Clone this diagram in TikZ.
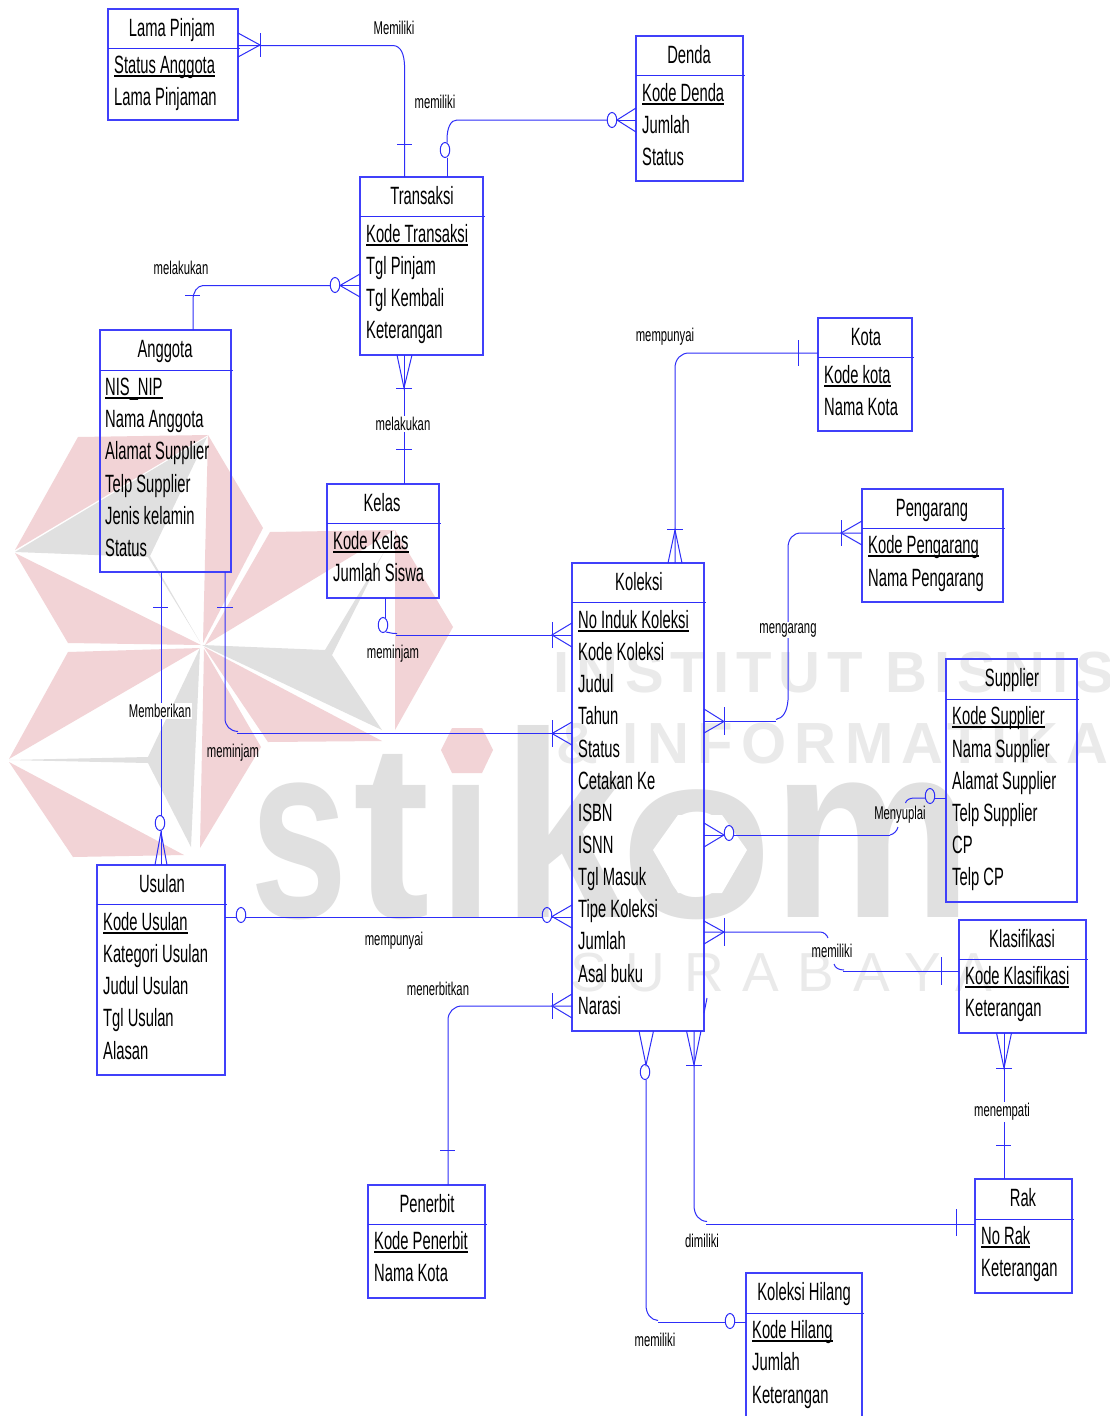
\documentclass[tikz,border=0pt]{standalone}
\usepackage{fontspec}
\usetikzlibrary{shapes.geometric}
\setmainfont{Liberation Sans}
\newfontfamily\attrf[FakeStretch=0.59]{Liberation Sans}
\newfontfamily\labf[FakeStretch=0.61]{Liberation Sans}
\newfontfamily\wmf{Liberation Sans Bold}
\newfontfamily\wmbig[LetterSpace=12]{Liberation Sans Bold}
\newfontfamily\wmbigb[LetterSpace=14.5]{Liberation Sans Bold}
\newfontfamily\wmthin[LetterSpace=34]{Liberation Sans}
\definecolor{wmpink}{HTML}{F2D3D6}
\definecolor{wmgray}{HTML}{E0E0E0}
\definecolor{wmtext}{HTML}{EAEAEA}
\definecolor{er}{HTML}{2E2EF8}
\definecolor{erbox}{HTML}{4040FA}
\newcommand\ukey[1]{\setbox0\hbox{#1}\rlap{\rule[-3.5pt]{\wd0}{1.8pt}}\box0}
\tikzset{
  entbox/.style={draw=erbox,line width=1.1pt,rectangle,inner sep=0pt,outer sep=0pt},
  attr/.style={anchor=base west,inner sep=0pt,font=\attrf\fontsize{25}{25}\selectfont},
  ttl/.style={anchor=base,inner sep=0pt,font=\attrf\fontsize{25}{25}\selectfont},
  rel/.style={inner sep=1pt,font=\labf\fontsize{18.5}{18.5}\selectfont},
  relw/.style={rel,fill=white},
  conn/.style={draw=er,line width=1pt},
  zero/.style={draw=er,line width=1pt,ellipse,minimum width=9.5pt,minimum height=15pt,inner sep=0pt,outer sep=0pt},
  pk/.style={fill=wmpink,draw=none},
  gr/.style={fill=wmgray,draw=none},
  wmletter/.style={anchor=base west,inner sep=0pt,text=wmgray,font=\wmf\fontsize{250}{250}\selectfont,transform shape}
}
% name x1 y1 x2 y2 ydiv title titlex
\newcommand\ent[8]{%
  \node[entbox,minimum width={(#4-#2)*1pt},minimum height={(#5-#3)*1pt}] (#1) at ({(#2+#4)/2},{(#3+#5)/2}) {};
  \draw[conn] (#1.west |- 0,#6) -- ([xshift=1.5pt]#1.east |- 0,#6);
  \node[ttl] (#1t) at (#8,{#3+27.5}) {#7};
}
\begin{document}
\begin{tikzpicture}[x=1pt,y=-1pt]
\useasboundingbox (0,0) rectangle (1110,1416);
\fill[white] (0,0) rectangle (1110,1416);
% ---- watermark
\fill[pk] (78,437) -- (208,435) -- (15,550) -- cycle;
\fill[gr] (15,552) -- (207,437) -- (150,556) -- (200,642) -- (148,557) -- cycle;
\fill[pk] (208,435) -- (263,528) -- (203,643) -- cycle;
\fill[pk] (15,553) -- (201,645) -- (68,643) -- cycle;
\fill[pk] (270,532) -- (395,530) -- (205,645) -- cycle;
\fill[pk] (395,530) -- (453,627) -- (395,730) -- cycle;
\fill[gr] (202,645) -- (325,650) -- (384,552) -- (332,655) -- (382,730) -- cycle;
\fill[pk] (204,647) -- (382,741) -- (268,742) -- cycle;
\fill[pk] (204,649) -- (261,747) -- (200,848) -- cycle;
\fill[gr] (200,648) -- (191,847) -- (148,763) -- (9,760) -- (148,757) -- cycle;
\fill[pk] (9,762) -- (184,855) -- (73,857) -- cycle;
\fill[pk] (200,648) -- (9,759) -- (68,652) -- cycle;
\node[wmletter,xscale=.70] (wms) at (250,917) {s};
\node[wmletter,xscale=.92] (wmt) at (353,917) {t};
\node[wmletter,xscale=.77] (wmi) at (439,917) {i};
\node[wmletter,xscale=.90,yscale=1.06] (wmk) at (502,917) {k};
\node[wmletter,xscale=1,yscale=.95] (wmo) at (620,917) {o};
\node[wmletter,xscale=.90] (wmm) at (772,917) {m};
\fill[white] (653,850) -- (678,815) -- (722,815) -- (747,850) -- (722,893) -- (678,893) -- cycle;
\fill[pk] (441,750) -- (452,728) -- (482,728) -- (493,750) -- (482,773) -- (452,773) -- cycle;
\node[anchor=base west,inner sep=0pt,text=wmtext,font=\wmbig\fontsize{58}{58}\selectfont] (wm1) at (553,692) {INSTITUT BISNIS};
\node[anchor=base west,inner sep=0pt,text=wmtext,font=\wmbigb\fontsize{58}{58}\selectfont] (wm2) at (556,763) {\& INFORMATIKA};
\node[anchor=base west,inner sep=0pt,text=wmtext,font=\wmthin\fontsize{55}{55}\selectfont] (wm3) at (570,991) {SURABAYA};
% ---- entities
\ent{lama}{108}{9}{238}{120}{48}{Lama Pinjam}{172}
\node[attr] (lama1) at (114,73) {\ukey{Status Anggota}};
\node[attr] (lama2) at (114,105) {Lama Pinjaman};
\ent{denda}{636}{36}{743}{181}{75}{Denda}{689}
\node[attr] (denda1) at (642,101) {\ukey{Kode Denda}};
\node[attr] (denda2) at (642,133) {Jumlah};
\node[attr] (denda3) at (642,165) {Status};
\ent{trans}{360}{177}{483}{355}{216}{Transaksi}{422}
\node[attr] (trans1) at (366,242) {\ukey{Kode Transaksi}};
\node[attr] (trans2) at (366,274) {Tgl Pinjam};
\node[attr] (trans3) at (366,306) {Tgl Kembali};
\node[attr] (trans4) at (366,338) {Keterangan};
\ent{anggota}{100}{330}{231}{572}{370}{Anggota}{165}
\node[attr] (ang1) at (105,395) {\ukey{NIS\_NIP}};
\node[attr] (ang2) at (105,427) {Nama Anggota};
\node[attr] (ang3) at (105,459) {Alamat Supplier};
\node[attr] (ang4) at (105,492) {Telp Supplier};
\node[attr] (ang5) at (105,524) {Jenis kelamin};
\node[attr] (ang6) at (105,556) {Status};
\ent{kelas}{327}{484}{439}{598}{523}{Kelas}{382}
\node[attr] (kel1) at (333,549) {\ukey{Kode Kelas}};
\node[attr] (kel2) at (333,581) {Jumlah Siswa};
\ent{kota}{818}{318}{912}{431}{357}{Kota}{866}
\node[attr] (kota1) at (824,383) {\ukey{Kode kota}};
\node[attr] (kota2) at (824,415) {Nama Kota};
\ent{pengarang}{862}{489}{1003}{602}{528}{Pengarang}{932}
\node[attr] (peng1) at (868,553) {\ukey{Kode Pengarang}};
\node[attr] (peng2) at (868,586) {Nama Pengarang};
\ent{koleksi}{572}{563}{704}{1031}{602}{Koleksi}{639}
\node[attr] (kol1) at (578,628) {\ukey{No Induk Koleksi}};
\node[attr] (kol2) at (578,660) {Kode Koleksi};
\node[attr] (kol3) at (578,692) {Judul};
\node[attr] (kol4) at (578,724) {Tahun};
\node[attr] (kol5) at (578,757) {Status};
\node[attr] (kol6) at (578,789) {Cetakan Ke};
\node[attr] (kol7) at (578,821) {ISBN};
\node[attr] (kol8) at (578,853) {ISNN};
\node[attr] (kol9) at (578,885) {Tgl Masuk};
\node[attr] (kol10) at (578,917) {Tipe Koleksi};
\node[attr] (kol11) at (578,949) {Jumlah};
\node[attr] (kol12) at (578,982) {Asal buku};
\node[attr] (kol13) at (578,1014) {Narasi};
\ent{supplier}{946}{659}{1077}{902}{699}{Supplier}{1012}
\node[attr] (sup1) at (952,724) {\ukey{Kode Supplier}};
\node[attr] (sup2) at (952,757) {Nama Supplier};
\node[attr] (sup3) at (952,789) {Alamat Supplier};
\node[attr] (sup4) at (952,821) {Telp Supplier};
\node[attr] (sup5) at (952,853) {CP};
\node[attr] (sup6) at (952,885) {Telp CP};
\ent{klas}{959}{920}{1086}{1033}{959}{Klasifikasi}{1022}
\node[attr] (kla1) at (965,984) {\ukey{Kode Klasifikasi}};
\node[attr] (kla2) at (965,1016) {Keterangan};
\ent{usulan}{97}{865}{225}{1075}{904}{Usulan}{162}
\node[attr] (usu1) at (103,930) {\ukey{Kode Usulan}};
\node[attr] (usu2) at (103,962) {Kategori Usulan};
\node[attr] (usu3) at (103,994) {Judul Usulan};
\node[attr] (usu4) at (103,1026) {Tgl Usulan};
\node[attr] (usu5) at (103,1059) {Alasan};
\ent{penerbit}{368}{1185}{485}{1298}{1224}{Penerbit}{427}
\node[attr] (pen1) at (374,1249) {\ukey{Kode Penerbit}};
\node[attr] (pen2) at (374,1281) {Nama Kota};
\ent{rak}{975}{1179}{1072}{1293}{1219}{Rak}{1023}
\node[attr] (rak1) at (981,1244) {\ukey{No Rak}};
\node[attr] (rak2) at (981,1276) {Keterangan};
\ent{hilang}{746}{1273}{862}{1420}{1313}{Koleksi Hilang}{804}
\node[attr] (hil1) at (752,1338) {\ukey{Kode Hilang}};
\node[attr] (hil2) at (752,1370) {Jumlah};
\node[attr] (hil3) at (752,1403) {Keterangan};
% ---- optional markers
\node[zero] (z1) at (612,120) {};
\node[zero] (z2) at (445,150) {};
\node[zero] (z3) at (335,285) {};
\node[zero] (z4) at (160,823) {};
\node[zero] (z5) at (383,625) {};
\node[zero] (z6) at (729,833) {};
\node[zero] (z7) at (930,796) {};
\node[zero] (z8) at (241,915) {};
\node[zero] (z9) at (547,915) {};
\node[zero] (z10) at (645,1072) {};
\node[zero] (z11) at (730,1321) {};
% ---- connectors
% Lama Pinjam - Transaksi
\draw[conn] (lama.east |- 0,33) -- (260,45) -- (lama.east |- 0,57);
\draw[conn] (260,33) -- (260,57);
\draw[conn] (lama.east |- 0,45.5) -- (393,45.5) .. controls (401,46) and (404,54) .. (404.5,65) -- (trans.north -| 404.5,0);
\draw[conn] (397,144) -- (412,144);
% Denda - Transaksi
\draw[conn] (denda.west |- 0,108) -- (617,120) -- (denda.west |- 0,132);
\draw[conn] (denda.west |- 0,120) -- (z1.east |- 0,120);
\draw[conn] (z1.west |- 0,120) -- (457,120) .. controls (451,120) and (447,127) .. (447,140) -- (z2.north -| 447,0);
\draw[conn] (z2.south -| 447,0) -- (trans.north -| 447,0);
% Anggota - Transaksi
\draw[conn] (trans.west |- 0,274) -- (340,285.5) -- (trans.west |- 0,297);
\draw[conn] (z3.west |- 0,285.5) -- (203,285.5) .. controls (197,286) and (193,292) .. (193,300) -- (anggota.north -| 193,0);
\draw[conn] (185,295) -- (200,295);
\draw[conn] (trans.west |- 0,285.5) -- (z3.east |- 0,285.5);
% Transaksi - Kelas
\draw[conn] (trans.south -| 397,0) -- (404,388) -- (trans.south -| 412,0);
\draw[conn] (trans.south -| 404,0) -- (kelas.north -| 404,0);
\draw[conn] (396,388) -- (412,388);
\draw[conn] (396,449) -- (412,449);
\node[relw] (r1) at (403,424) {melakukan};
% Anggota - Usulan
\draw[conn] (anggota.south -| 161,0) -- (z4.north -| 161,0);
\draw[conn] (153,607) -- (168,607);
\draw[conn] (usulan.north -| 155,0) -- (161,832) -- (usulan.north -| 167,0);
\draw[conn] (z4.south -| 161,0) -- (usulan.north -| 161,0);
\node[relw] (r2) at (160,711) {Memberikan};
% Anggota - Koleksi
\draw[conn] (anggota.south -| 225,0) -- (225,718) .. controls (225,726) and (230,731) .. (238,731.5);
\draw[conn] (237,733.5) -- (koleksi.west |- 0,733.5);
\draw[conn] (217,607) -- (233,607);
\draw[conn] (koleksi.west |- 0,722) -- (552,733.5) -- (koleksi.west |- 0,745);
\draw[conn] (552,720) -- (552,747);
\node[rel] (r3) at (233,752.5) {meminjam};
% Kelas - Koleksi
\draw[conn] (kelas.south -| 385,0) -- (z5.north -| 385,0);
\draw[conn] (386,632) .. controls (389,632) and (392,634) .. (397,633.5);
\draw[conn] (396,635) -- (koleksi.west |- 0,635);
\draw[conn] (koleksi.west |- 0,623) -- (552,635) -- (koleksi.west |- 0,647);
\draw[conn] (552,622) -- (552,648);
\node[rel] (r4) at (393,653.5) {meminjam};
% Kota - Koleksi
\draw[conn] (kota.west |- 0,353) -- (689,353) .. controls (681,353) and (675,359) .. (675,368) -- (koleksi.north -| 675,0);
\draw[conn] (798,340) -- (798,366);
\draw[conn] (koleksi.north -| 668,0) -- (675,530) -- (koleksi.north -| 682,0);
\draw[conn] (667,529) -- (683,529);
\node[rel] (r5) at (665,337) {mempunyai};
% Pengarang - Koleksi
\draw[conn] (pengarang.west |- 0,533) -- (801,533) .. controls (793,533) and (788,539) .. (788,548) -- (788,700) .. controls (787,712) and (783,718) .. (776,719.5);
\draw[conn] (776,721.5) -- (koleksi.east |- 0,721.5);
\draw[conn] (pengarang.west |- 0,521) -- (841,533) -- (pengarang.west |- 0,545);
\draw[conn] (841,520) -- (841,546);
\draw[conn] (koleksi.east |- 0,709) -- (724,721.5) -- (koleksi.east |- 0,733);
\draw[conn] (724,707) -- (724,735);
\node[relw] (r6) at (788,630) {mengarang};
% Supplier - Koleksi
\draw[conn] (supplier.west |- 0,798) -- (z7.east |- 0,798);
\draw[conn] (z7.west |- 0,798) -- (914,798) .. controls (910,798) and (906,800) .. (905.5,803);
\draw[conn] (898,827) .. controls (897,831) and (894,834) .. (890,835);
\draw[conn] (890,835) -- (z6.east |- 0,835);
\draw[conn] (koleksi.east |- 0,823) -- (724,835) -- (koleksi.east |- 0,847);
\draw[conn] (koleksi.east |- 0,835) -- (724,835);
\node[rel] (r7) at (900,815) {Menyuplai};
% Klasifikasi - Koleksi
\draw[conn] (koleksi.east |- 0,932) -- (820,932) .. controls (824,932) and (827,935) .. (828,938);
\draw[conn] (834,964) .. controls (835,968) and (839,970) .. (844,970);
\draw[conn] (843,971.5) -- (klas.west |- 0,971.5);
\draw[conn] (koleksi.east |- 0,921) -- (724,932) -- (koleksi.east |- 0,944);
\draw[conn] (724,918) -- (724,946);
\draw[conn] (941,957) -- (941,985);
\node[rel] (r8) at (832,951) {memiliki};
% Usulan - Koleksi
\draw[conn] (usulan.east |- 0,917) -- (z8.west |- 0,917);
\draw[conn] (z8.east |- 0,917) -- (z9.west |- 0,917);
\draw[conn] (z9.east |- 0,917) -- (koleksi.west |- 0,917);
\draw[conn] (koleksi.west |- 0,905) -- (552,916.5) -- (koleksi.west |- 0,928);
\node[rel] (r9) at (394,941) {mempunyai};
% Penerbit - Koleksi
\draw[conn] (koleksi.west |- 0,1006) -- (462,1006) .. controls (454,1006) and (448,1012) .. (448,1020) -- (penerbit.north -| 448,0);
\draw[conn] (koleksi.west |- 0,994) -- (552,1006) -- (koleksi.west |- 0,1018);
\draw[conn] (552,993) -- (552,1019);
\draw[conn] (440,1150) -- (455,1150);
\node[rel] (r10) at (438,989) {menerbitkan};
% Koleksi - Hilang
\draw[conn] (koleksi.south -| 639,0) -- (646,1065) -- (koleksi.south -| 653.5,0);
\draw[conn] (z10.south -| 646,0) -- (646,1305) .. controls (646,1314) and (651,1320) .. (658,1320.5);
\draw[conn] (658,1322.5) -- (z11.west |- 0,1322.5);
\draw[conn] (z11.east |- 0,1322.5) -- (hilang.west |- 0,1322.5);
\node[rel] (r11) at (655,1340) {memiliki};
% Koleksi - Rak
\draw[conn] (koleksi.south -| 686.5,0) -- (694,1065) -- (koleksi.south -| 701,0);
\draw[conn] (686,1065) -- (702,1065);
\draw[conn] (koleksi.south -| 694,0) -- (694,1205) .. controls (694,1215) and (699,1221) .. (707,1221.5);
\draw[conn] (706,1224) -- (rak.west |- 0,1224);
\draw[conn] (956,1209) -- (956,1236);
\draw[conn] (707,998) -- (704,1013);
\node[rel] (r12) at (702,1241) {dimiliki};
% Klasifikasi - Rak
\draw[conn] (klas.south -| 996.5,0) -- (1004,1068) -- (klas.south -| 1011.5,0);
\draw[conn] (klas.south -| 1004,0) -- (rak.north -| 1004,0);
\draw[conn] (996,1068) -- (1012,1068);
\draw[conn] (996,1145) -- (1011,1145);
\node[relw] (r13) at (1002,1112) {menempati};
% top labels
\node[rel] (r14) at (394,28) {Memiliki};
\node[rel] (r15) at (435,102) {memiliki};
\node[rel] (r16) at (181,268) {melakukan};
\end{tikzpicture}
\end{document}
